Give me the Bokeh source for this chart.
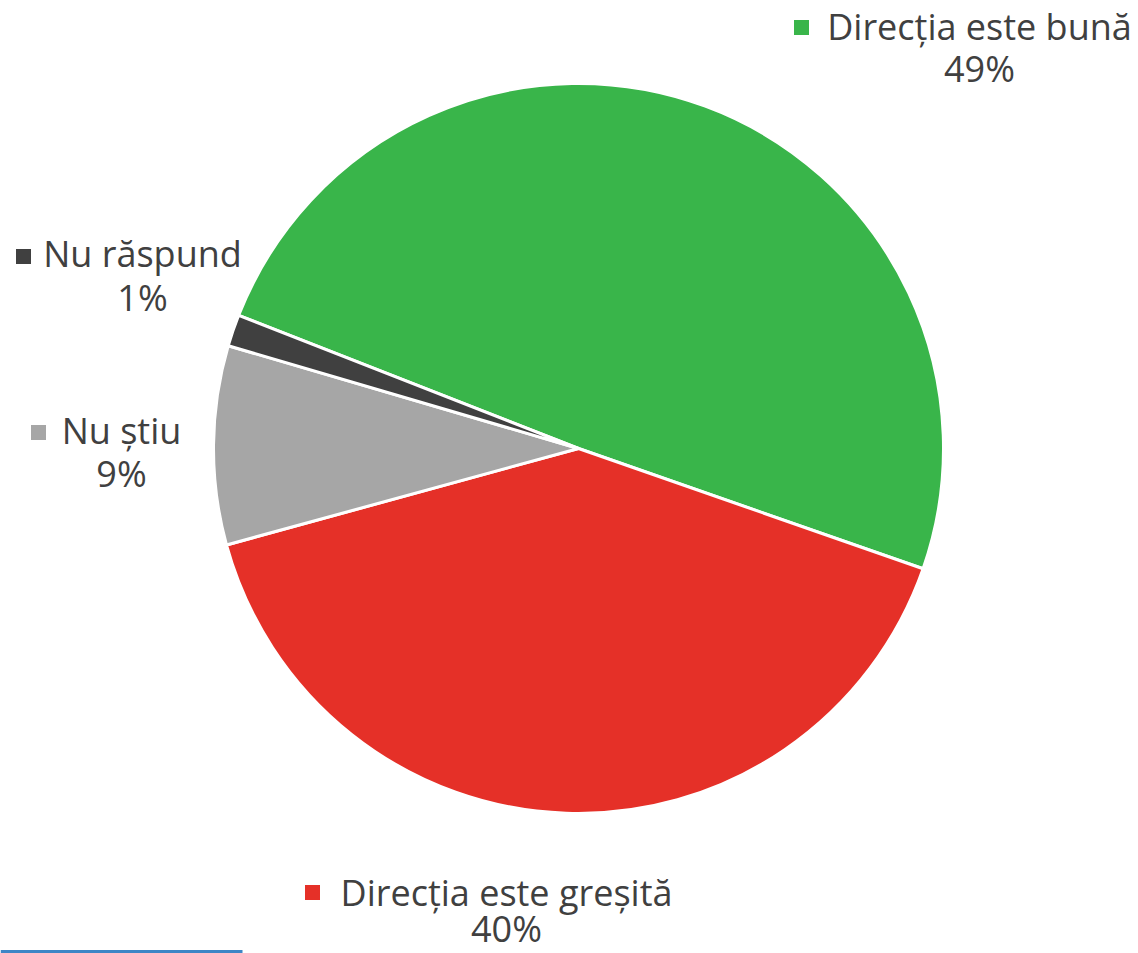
import numpy as np
from bokeh.plotting import figure
from bokeh.models import Range1d, ColumnDataSource
from bokeh.core.properties import value
from bokeh.embed import file_html
from bokeh.resources import INLINE

# ---- data ----
categories = ["Direcția este bună", "Direcția este greșită", "Nu știu", "Nu răspund"]
shares = [49.4, 40.4, 8.8, 1.4]
colors = ["#39B54A", "#E53028", "#A6A6A6", "#404040"]

# ---- layout (figure pixel coordinates, y up) ----
W, H = 1138, 953
cx_s, cy_s, r = 578, 448, 365
start_deg = 158.6  # first slice starts upper-left, goes clockwise
text_shift = 15    # rendering offset correction

def fy(y_screen):
    return H - y_screen

def fx(x_screen):
    return x_screen

# label anchors (screen px): text centre x, name baseline, pct baseline, marker centre
lab_cx = [979, 506, 121, 142]
lab_b1 = [41, 907, 445, 268]
lab_b2 = [83, 943, 488, 312]
mark_x = [801, 312, 38, 23]
mark_y = [27, 892, 432, 256]

vals = np.array(shares, dtype=float)
frac = vals / vals.sum()
ang = frac * 2 * np.pi
ends = np.deg2rad(start_deg) - np.cumsum(ang)
starts = ends + ang

src = ColumnDataSource(dict(start=starts, end=ends, color=colors))

p = figure(width=W, height=H, output_backend="svg", toolbar_location=None,
           x_range=Range1d(0, W), y_range=Range1d(0, H),
           min_border=0, outline_line_color=None, background_fill_color="white")
p.axis.visible = False
p.grid.visible = False

p.wedge(x=fx(cx_s), y=fy(cy_s), radius=r, start_angle="start", end_angle="end",
        direction="clock", fill_color="color", line_color="white",
        line_width=3, source=src)

pct = [f"{int(round(v))}%" for v in frac * 100]
lsrc = ColumnDataSource(dict(
    x=[fx(v) for v in lab_cx],
    y1=[fy(v - text_shift) for v in lab_b1],
    y2=[fy(v - text_shift) for v in lab_b2],
    name=categories, pct=pct,
    mx=[fx(v) for v in mark_x], my=[fy(v) for v in mark_y],
    color=colors))

font = value("Open Sans")
p.text(x="x", y="y1", text="name", source=lsrc, text_align="center",
       text_baseline="alphabetic", text_font=font, text_font_size="36px",
       text_color="#404040")
p.text(x="x", y="y2", text="pct", source=lsrc, text_align="center",
       text_baseline="alphabetic", text_font=font, text_font_size="36px",
       text_color="#404040")
p.scatter(x="mx", y="my", marker="square", size=15, fill_color="color",
          line_color=None, source=lsrc)

# decorative blue strip at bottom-left edge (slide frame remnant)
p.quad(left=[0], right=[242], bottom=[0], top=[3.5], fill_color="#3D86C6",
       line_color=None)

open("out.html", "w").write(file_html(p, INLINE))
